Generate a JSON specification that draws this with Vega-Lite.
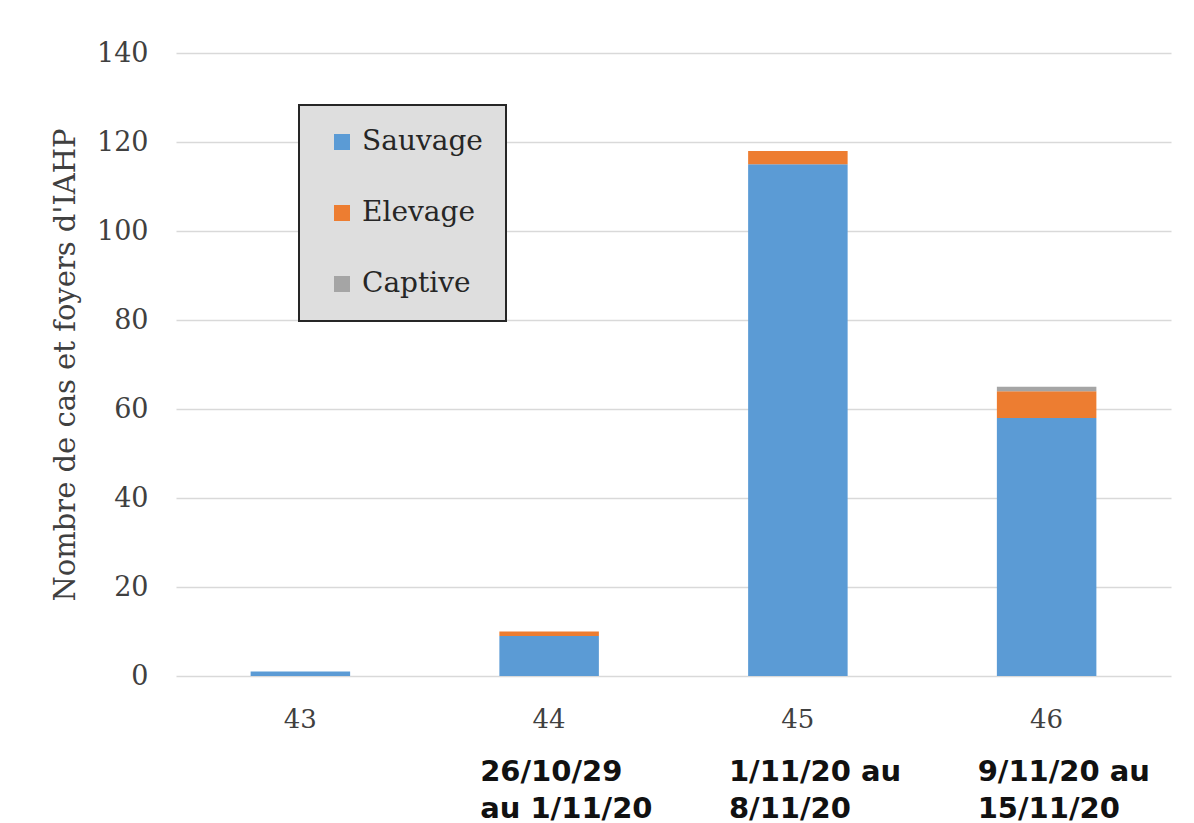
{
  "$schema": "https://vega.github.io/schema/vega-lite/v6.json",
  "autosize": "none",
  "width": 995,
  "height": 623,
  "padding": {"left": 176, "top": 53, "right": 23, "bottom": 147},
  "background": "white",
  "data": {
    "values": [
      {"semaine": "43", "type": "Sauvage", "n": 1},
      {"semaine": "44", "type": "Sauvage", "n": 9},
      {"semaine": "44", "type": "Elevage", "n": 1},
      {"semaine": "45", "type": "Sauvage", "n": 115},
      {"semaine": "45", "type": "Elevage", "n": 3},
      {"semaine": "46", "type": "Sauvage", "n": 58},
      {"semaine": "46", "type": "Elevage", "n": 6},
      {"semaine": "46", "type": "Captive", "n": 1}
    ]
  },
  "config": {
    "view": {"stroke": null},
    "font": "DejaVu Serif",
    "axis": {
      "labelFont": "DejaVu Serif",
      "titleFont": "DejaVu Serif",
      "labelColor": "#404040",
      "titleColor": "#404040",
      "domain": false,
      "ticks": false
    },
    "legend": {
      "labelFont": "DejaVu Serif",
      "labelFontSize": 28,
      "labelColor": "#262626"
    }
  },
  "resolve": {"axis": {"x": "independent"}},
  "layer": [
    {
      "mark": {"type": "bar"},
      "encoding": {
        "x": {
          "field": "semaine",
          "type": "ordinal",
          "scale": {"paddingInner": 0.6, "paddingOuter": 0.3},
          "axis": {
            "title": null,
            "labelAngle": 0,
            "labelFontSize": 26,
            "labelPadding": 30,
            "grid": false
          }
        },
        "y": {
          "aggregate": "sum",
          "field": "n",
          "type": "quantitative",
          "scale": {"domain": [0, 140]},
          "axis": {
            "title": "Nombre de cas et foyers d'IAHP",
            "titleFontSize": 29,
            "titleFontWeight": "normal",
            "titlePadding": 16,
            "labelFontSize": 27,
            "labelPadding": 28,
            "values": [0, 20, 40, 60, 80, 100, 120, 140],
            "grid": true,
            "gridColor": "#d9d9d9",
            "gridWidth": 1.5
          }
        },
        "color": {
          "field": "type",
          "type": "nominal",
          "scale": {
            "domain": ["Sauvage", "Elevage", "Captive"],
            "range": ["#5b9bd5", "#ed7d31", "#a5a5a5"]
          },
          "legend": {
            "title": null,
            "orient": "none",
            "legendX": 123,
            "legendY": 52,
            "padding": 23,
            "symbolType": "square",
            "symbolSize": 256,
            "symbolOffset": 6,
            "symbolStrokeWidth": 0,
            "labelOffset": 6,
            "rowPadding": 43,
            "fillColor": "#dedede",
            "strokeColor": "#262626",
            "encode": {"legend": {"update": {"strokeWidth": {"value": 2}}}}
          }
        },
        "order": {"field": "type", "sort": "descending"}
      }
    },
    {
      "mark": {"type": "rule", "opacity": 0},
      "encoding": {
        "x": {
          "field": "semaine",
          "type": "ordinal",
          "axis": {
            "orient": "bottom",
            "title": null,
            "grid": false,
            "labelAngle": 0,
            "labelAlign": "left",
            "labelBaseline": "top",
            "labelOffset": -69,
            "labelPadding": 81,
            "labelFont": "DejaVu Sans",
            "labelFontWeight": "bold",
            "labelFontSize": 29,
            "labelColor": "#111111",
            "labelLineHeight": 37,
            "labelExpr": "datum.value == '44' ? ['26/10/29', 'au 1/11/20'] : datum.value == '45' ? ['1/11/20 au', '8/11/20'] : datum.value == '46' ? ['9/11/20 au', '15/11/20'] : ''"
          }
        }
      }
    }
  ]
}
